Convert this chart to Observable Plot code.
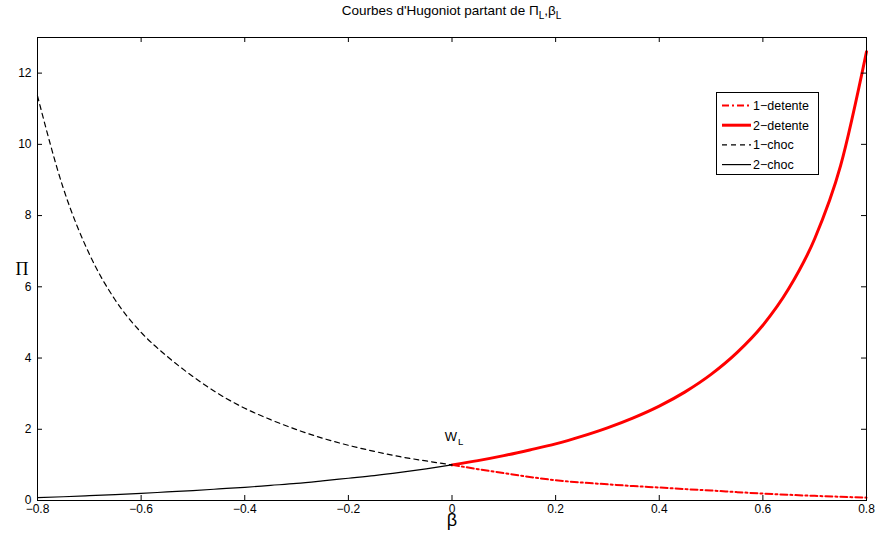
<!DOCTYPE html>
<html>
<head>
<meta charset="utf-8">
<script src="https://cdn.jsdelivr.net/npm/d3@7"></script>
<script src="https://cdn.jsdelivr.net/npm/@observablehq/plot@0.6"></script>
<style>
  body { margin: 0; background: #fff; font-family: "Liberation Sans", Arial, Helvetica, sans-serif; }
  #wrap { position: relative; width: 878px; height: 538px; }
  #title { position: absolute; left: 37px; width: 829px; top: 3px; text-align: center; font-size: 13.5px; color: #000; line-height: 16px; }
  #title sub { font-size: 10px; vertical-align: -4px; line-height: 0; }
  #legend { position: absolute; left: 716px; top: 92px; width: 103px; height: 83px; border: 1px solid #000; background: #fff; box-sizing: border-box; }
</style>
</head>
<body>
<div id="wrap">
  <div id="chart"></div>
  <div id="title">Courbes d'Hugoniot partant de Π<sub>L</sub>,β<sub>L</sub></div>
  <div id="legend"></div>
</div>
<script>
// ---- data ----
const betaRight = [0, 0.05, 0.1, 0.15, 0.2, 0.25, 0.3, 0.35, 0.4, 0.45, 0.5, 0.55, 0.6, 0.65, 0.7, 0.75, 0.8];
const detente2 = [1.0, 1.12, 1.26, 1.42, 1.59, 1.80, 2.04, 2.32, 2.65, 3.05, 3.54, 4.15, 4.92, 5.95, 7.35, 9.4, 12.6];
const detente1 = [1.0, 0.88, 0.77, 0.66, 0.57, 0.505, 0.455, 0.405, 0.365, 0.32, 0.28, 0.235, 0.195, 0.16, 0.13, 0.105, 0.08];

const betaLeft = [-0.8, -0.75, -0.7, -0.65, -0.6, -0.55, -0.5, -0.45, -0.4, -0.35, -0.3, -0.25, -0.2, -0.15, -0.1, -0.05, 0];
const choc2 = [0.08, 0.105, 0.135, 0.165, 0.2, 0.24, 0.28, 0.325, 0.37, 0.425, 0.48, 0.55, 0.625, 0.70, 0.79, 0.89, 1.0];
const choc1 = [11.36, 8.76, 6.92, 5.63, 4.72, 4.05, 3.48, 2.99, 2.59, 2.27, 1.99, 1.75, 1.55, 1.38, 1.23, 1.11, 1.0];

const xTicks = [-0.8, -0.6, -0.4, -0.2, 0, 0.2, 0.4, 0.6, 0.8];
const yTicks = [0, 2, 4, 6, 8, 10, 12];

const seriesNames = ["1\u2212detente", "2\u2212detente", "1\u2212choc", "2\u2212choc"];
const seriesColors = ["#ff0000", "#ff0000", "#000000", "#000000"];
const seriesWidths = [2, 3, 1.2, 1.2];
const seriesDash = ["7,3,2,3", null, "5,4", null];

const annBeta = [0];
const annPi = [1.8];
const annText = ["W"];
const annSub = ["L"];

// ---- build rows ----
const rows = [];
betaRight.forEach((b, i) => rows.push({beta: b, pi: detente1[i], s: 0}));
betaRight.forEach((b, i) => rows.push({beta: b, pi: detente2[i], s: 1}));
betaLeft.forEach((b, i) => rows.push({beta: b, pi: choc1[i], s: 2}));
betaLeft.forEach((b, i) => rows.push({beta: b, pi: choc2[i], s: 3}));

const fmtX = d3.format(".1~f");
const fnt = "'Liberation Sans', Arial, Helvetica, sans-serif";

const lineMarks = [0, 1, 2, 3].map(s =>
  Plot.line(rows.filter(r => r.s === s), {
    x: "beta", y: "pi", curve: "monotone-x",
    stroke: seriesColors[s], strokeWidth: seriesWidths[s],
    strokeDasharray: seriesDash[s] || undefined
  })
);

const W = 878, H = 538, mL = 37, mR = 12, mT = 37, mB = 38;
const fw = W - mL - mR, fh = H - mT - mB, tk = 5;

const chart = Plot.plot({
  width: W, height: H,
  marginLeft: mL, marginRight: mR, marginTop: mT, marginBottom: mB,
  x: {domain: [-0.8, 0.8]},
  y: {domain: [0, 13]},
  style: {fontFamily: fnt, fontSize: "12px", color: "#000", background: "#fff"},
  marks: [
    ...lineMarks,
    Plot.frame({stroke: "#000", strokeWidth: 1}),
    // inward ticks on all four sides
    Plot.ruleX(xTicks, {x: d => d, insetTop: fh - tk, stroke: "#000"}),
    Plot.ruleX(xTicks, {x: d => d, insetBottom: fh - tk, stroke: "#000"}),
    Plot.ruleY(yTicks, {y: d => d, insetRight: fw - tk, stroke: "#000"}),
    Plot.ruleY(yTicks, {y: d => d, insetLeft: fw - tk, stroke: "#000"}),
    Plot.axisX(xTicks, {tickSize: 0, tickPadding: 4, tickFormat: fmtX, label: null, fontSize: 12}),
    Plot.axisY(yTicks, {tickSize: 0, tickPadding: 6, label: null, fontSize: 12}),
    Plot.text(["\u03b2"], {frameAnchor: "bottom", dy: 25, fontSize: 18}),
    Plot.text(["\u03a0"], {frameAnchor: "left", dx: -22, fontSize: 18, fontFamily: "'Liberation Serif', 'DejaVu Serif', serif"}),
    Plot.text(annText, {x: annBeta, y: annPi, fontSize: 13, textAnchor: "middle", dx: -1}),
    Plot.text(annSub, {x: annBeta, y: annPi, fontSize: 9.5, textAnchor: "start", dx: 6, dy: 6})
  ]
});
document.getElementById("chart").appendChild(chart);

// ---- legend ----
const lg = d3.select("#legend").append("svg").attr("width", 101).attr("height", 81);
seriesNames.forEach((name, i) => {
  const y = 12.5 + i * 19.7;
  const ln = lg.append("line").attr("x1", 5).attr("x2", 34).attr("y1", y).attr("y2", y)
    .attr("stroke", seriesColors[i]).attr("stroke-width", seriesWidths[i]);
  if (seriesDash[i]) ln.attr("stroke-dasharray", seriesDash[i]);
  lg.append("text").attr("x", 36).attr("y", y).attr("dy", "0.35em")
    .attr("font-family", fnt).attr("font-size", 12.5).text(name);
});
</script>
</body>
</html>
